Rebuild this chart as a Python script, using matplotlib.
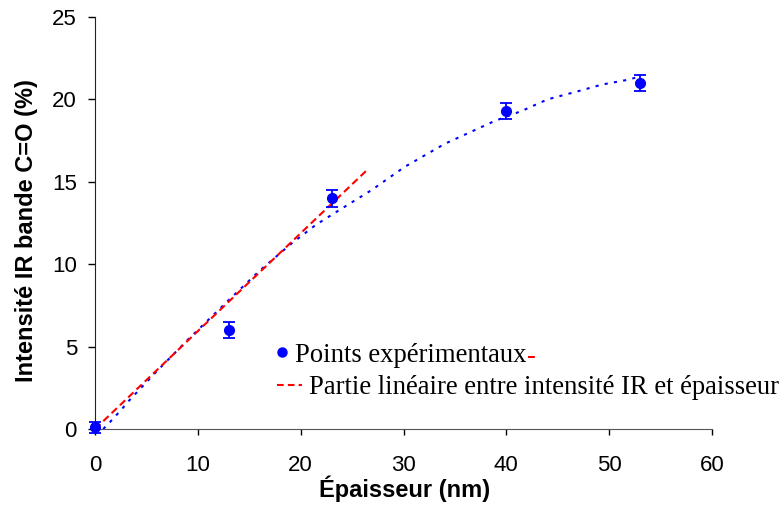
import matplotlib

matplotlib.use("Agg")
import matplotlib.pyplot as plt
from matplotlib.lines import Line2D

# Experimental points
epaisseur = [0, 13, 23, 40, 53]
intensite = [0.1, 6.0, 14.0, 19.3, 21.0]
erreur = [0.35, 0.5, 0.5, 0.5, 0.5]

# Linear part (red dashed)
lin_x = [0, 26.6]
lin_y = [0.0, 15.8]

# Trend curve (blue dotted)
trend_x = [0.8, 1.4, 2.6, 3.2, 6, 9, 12.8, 16, 19, 21.5, 23.8, 26.9, 30.1,
           34, 38.9, 41.5, 44, 47, 49.3, 51.9, 53]
trend_y = [0.0, 0.38, 1.2, 1.65, 3.5, 5.4, 7.7, 9.6, 11.2, 12.4, 13.3, 14.5,
           15.9, 17.3, 18.7, 19.3, 20.0, 20.5, 20.9, 21.2, 21.4]

x_ticks = [0, 10, 20, 30, 40, 50, 60]
y_ticks = [0, 5, 10, 15, 20, 25]

labels = ["Points expérimentaux", "Partie linéaire entre intensité IR et épaisseur"]

W, H = 782, 521
BLUE = "#0000ff"
RED = "#ff0000"
SERIF = ["Liberation Serif", "DejaVu Serif"]
LEG_SIZE = 19.2

plt.rcParams["font.family"] = ["Liberation Sans", "DejaVu Sans"]

fig = plt.figure(figsize=(W / 100, H / 100), dpi=100)
ax = fig.add_axes([95 / W, 1 - 429 / H, (712 - 95) / W, (429 - 17) / H])

ax.plot(trend_x, trend_y, color=BLUE, linestyle=(0, (1.5, 3)), linewidth=1.5,
        clip_on=False)
ax.plot(lin_x, lin_y, color=RED, linestyle=(0, (3.5, 2)), linewidth=1.5)
ax.errorbar(epaisseur, intensite, yerr=erreur, fmt="o", color=BLUE,
            markersize=7, capsize=4.5, elinewidth=1.3, capthick=1.3,
            clip_on=False, zorder=5)

ax.set_xlim(0, 60)
ax.set_ylim(0, 25)
ax.set_xticks(x_ticks)
ax.set_yticks(y_ticks)
ax.tick_params(labelsize=16, width=1, direction="out")
ax.tick_params(axis="x", length=4.5, pad=14)
ax.tick_params(axis="y", length=5, pad=8)
ax.spines["top"].set_visible(False)
ax.spines["right"].set_visible(False)
ax.spines["left"].set_color("#222222")
ax.spines["bottom"].set_color("#555555")

ax.set_xlabel("Épaisseur (nm)", fontsize=17, fontweight="bold")
ax.set_ylabel("Intensité IR bande C=O (%)", fontsize=17, fontweight="bold")
ax.xaxis.set_label_coords((405 - 95) / 617, (429 - 476) / 412)
ax.yaxis.set_label_coords((38 - 95) / 617, (429 - 231) / 412)

# hand-made legend, placed like the original
fig.add_artist(Line2D([282 / W], [1 - 352 / H], marker="o", color=BLUE,
                      markersize=6.5, linestyle="none"))
fig.add_artist(Line2D([277 / W, 302 / W], [1 - 385 / H, 1 - 385 / H], color=RED,
                      linestyle=(0, (3.2, 2)), linewidth=1.5))
t1 = fig.text(295 / W, 1 - 352 / H, labels[0], family=SERIF, fontsize=LEG_SIZE,
              va="center_baseline", ha="left")
fig.text(309 / W, 1 - 385 / H, labels[1], family=SERIF, fontsize=LEG_SIZE,
         va="center_baseline", ha="left")
# stray red dash after the first label, as in the original
ax.annotate("-", xy=(1, 0.45), xycoords=t1, va="center", ha="left",
            color=RED, fontsize=LEG_SIZE, family=SERIF)

fig.savefig("out.png", dpi=100)
